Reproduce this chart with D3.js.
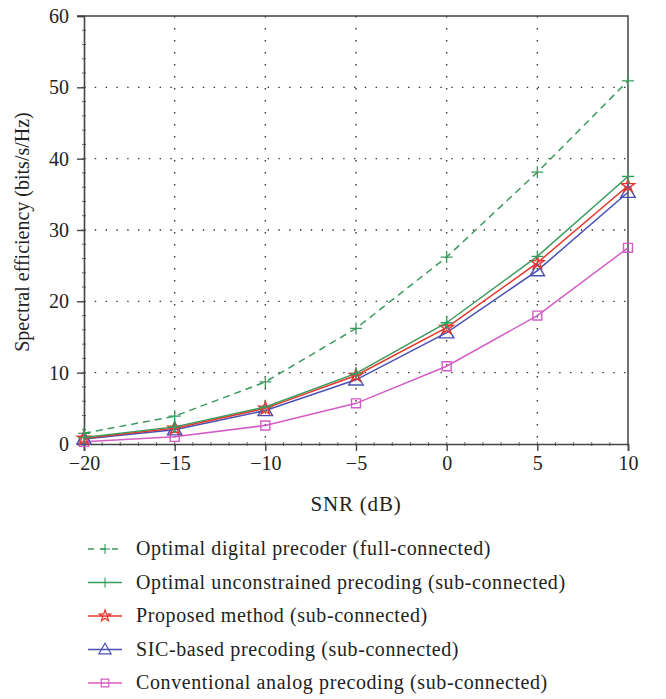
<!DOCTYPE html>
<html>
<head>
<meta charset="utf-8">
<script src="https://d3js.org/d3.v7.min.js"></script>
<style>
body { margin: 0; background: #fff; }
svg { display: block; font-family: 'Liberation Serif', 'DejaVu Serif', serif; }
</style>
</head>
<body>
<svg id="chart"></svg>
<script>
// Data
var snr = [-20, -15, -10, -5, 0, 5, 10];
var digitalFull = [1.5, 3.9, 8.7, 16.2, 26.2, 38.1, 50.9];
var unconstrainedSub = [0.9, 2.4, 5.2, 9.9, 17.0, 26.3, 37.5];
var proposedSub = [0.8, 2.2, 5.0, 9.6, 16.3, 25.4, 36.2];
var sicSub = [0.7, 2.0, 4.7, 9.0, 15.6, 24.3, 35.3];
var analogSub = [0.3, 1.0, 2.6, 5.7, 10.9, 18.0, 27.5];

var xTicks = [-20, -15, -10, -5, 0, 5, 10];
var yTicks = [0, 10, 20, 30, 40, 50, 60];

var series = [
	{ name: "Optimal digital precoder (full-connected)", values: digitalFull, color: "#3b9a5e", dash: "7,5", marker: "plus" },
	{ name: "Optimal unconstrained precoding (sub-connected)", values: unconstrainedSub, color: "#3b9a5e", dash: null, marker: "plus" },
	{ name: "Proposed method (sub-connected)", values: proposedSub, color: "#e8352b", dash: null, marker: "star" },
	{ name: "SIC-based precoding (sub-connected)", values: sicSub, color: "#4a50b2", dash: null, marker: "triangle" },
	{ name: "Conventional analog precoding (sub-connected)", values: analogSub, color: "#d45cc6", dash: null, marker: "square" }
];

var width = 666, height = 699;
var mLeft = 84, mRight = 628, mTop = 16, mBottom = 444;

var svg = d3.select("#chart").attr("width", width).attr("height", height);

var x = d3.scaleLinear().domain([-20, 10]).range([mLeft, mRight]);
var y = d3.scaleLinear().domain([0, 60]).range([mBottom, mTop]);

function fmt(d) { return d < 0 ? "\u2212" + Math.abs(d) : "" + d; }

// dotted grid
svg.append("g").selectAll("line")
	.data(xTicks.slice(1, -1)).enter().append("line")
	.attr("x1", function (d) { return x(d); }).attr("x2", function (d) { return x(d); })
	.attr("y1", mTop).attr("y2", mBottom)
	.attr("stroke", "#333").attr("stroke-width", 1.4)
	.attr("stroke-dasharray", "1.4,10.6");
svg.append("g").selectAll("line")
	.data(yTicks.slice(1, -1)).enter().append("line")
	.attr("x1", mLeft).attr("x2", mRight)
	.attr("y1", function (d) { return y(d); }).attr("y2", function (d) { return y(d); })
	.attr("stroke", "#333").attr("stroke-width", 1.4)
	.attr("stroke-dasharray", "1.4,9.4");

// frame top and right
svg.append("path")
	.attr("d", "M" + (mLeft - 7) + "," + mTop + "H" + mRight + "V" + mBottom)
	.attr("fill", "none").attr("stroke", "#444").attr("stroke-width", 1.5);

// minor ticks
var xMinor = d3.range(-20, 10.01, 1);
svg.append("g").selectAll("line").data(xMinor).enter().append("line")
	.attr("x1", function (d) { return x(d); }).attr("x2", function (d) { return x(d); })
	.attr("y1", mBottom - 2).attr("y2", mBottom + 2)
	.attr("stroke", "#666").attr("stroke-width", 1);
var yMinor = d3.range(0, 60.01, 2);
svg.append("g").selectAll("line").data(yMinor).enter().append("line")
	.attr("x1", mLeft - 2).attr("x2", mLeft + 2)
	.attr("y1", function (d) { return y(d); }).attr("y2", function (d) { return y(d); })
	.attr("stroke", "#666").attr("stroke-width", 1);

// axes
var xAxis = svg.append("g").attr("transform", "translate(0," + mBottom + ")")
	.call(d3.axisBottom(x).tickValues(xTicks).tickFormat(fmt).tickSize(7).tickPadding(5));
var yAxis = svg.append("g").attr("transform", "translate(" + mLeft + ",0)")
	.call(d3.axisLeft(y).tickValues(yTicks).tickFormat(fmt).tickSize(7).tickPadding(8));
[xAxis, yAxis].forEach(function (a) {
	a.select(".domain").attr("stroke", "#444").attr("stroke-width", 1.6);
	a.selectAll(".tick line").attr("stroke", "#444").attr("stroke-width", 1.4);
	a.selectAll("text").attr("font-family", "'Liberation Serif', serif")
		.attr("font-size", 20).attr("fill", "#222");
});

svg.append("text")
	.attr("x", 356).attr("y", 511)
	.attr("text-anchor", "middle").attr("font-size", 21).attr("fill", "#222")
	.attr("letter-spacing", 0.8)
	.text("SNR (dB)");
svg.append("text")
	.attr("transform", "translate(29,232) rotate(-90)")
	.attr("text-anchor", "middle").attr("font-size", 20).attr("fill", "#222")
	.text("Spectral efficiency (bits/s/Hz)");

// markers
var symbols = {
	star: d3.symbol().type(d3.symbolStar).size(55),
	triangle: d3.symbol().type(d3.symbolTriangle).size(90),
	square: d3.symbol().type(d3.symbolSquare).size(80)
};
function drawMarker(g, kind, color) {
	if (kind === "plus") {
		g.append("path").attr("d", "M-6,0H6M0,-6V6")
			.attr("stroke", color).attr("stroke-width", 1.3).attr("fill", "none");
	} else {
		var p = g.append("path").attr("d", symbols[kind]())
			.attr("fill", "none").attr("stroke", color).attr("stroke-width", 1.4);
		if (kind === "triangle") p.attr("transform", "translate(0,1)");
	}
}

var line = d3.line()
	.x(function (d, i) { return x(snr[i]); })
	.y(function (d) { return y(d); });

var plot = svg.append("g");
series.slice().reverse().forEach(function (s) {
	plot.append("path").datum(s.values)
		.attr("d", line)
		.attr("fill", "none").attr("stroke", s.color).attr("stroke-width", 1.5)
		.attr("stroke-dasharray", s.dash);
	s.values.forEach(function (v, i) {
		var g = plot.append("g").attr("transform", "translate(" + x(snr[i]) + "," + y(v) + ")");
		drawMarker(g, s.marker, s.color);
	});
});

// legend
var legend = svg.append("g");
series.forEach(function (s, i) {
	var cy = 549 + i * 33.5;
	legend.append("line")
		.attr("x1", 88).attr("x2", 122).attr("y1", cy).attr("y2", cy)
		.attr("stroke", s.color).attr("stroke-width", 1.4)
		.attr("stroke-dasharray", s.dash ? "6,6" : null);
	var g = legend.append("g").attr("transform", "translate(105," + cy + ") scale(0.85)");
	drawMarker(g, s.marker, s.color);
	legend.append("text")
		.attr("x", 136).attr("y", cy + 6)
		.attr("font-size", 20).attr("fill", "#222")
		.attr("letter-spacing", 0.6)
		.text(s.name);
});
</script>
</body>
</html>
